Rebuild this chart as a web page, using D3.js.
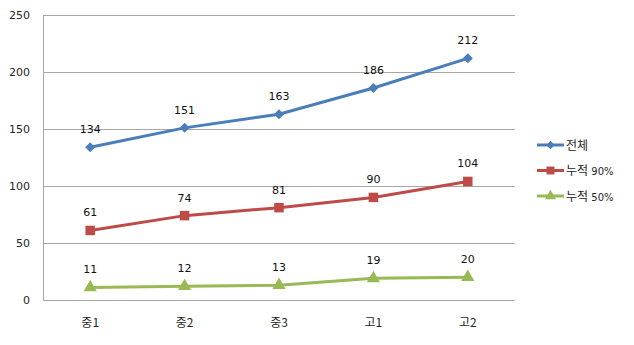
<!DOCTYPE html>
<html><head><meta charset="utf-8">
<script src="https://cdn.jsdelivr.net/npm/d3@7"></script>
<style>body{margin:0;background:#fff}</style>
</head><body><svg id="c" width="634" height="345"></svg>
<script>
const categories = ["중1","중2","중3","고1","고2"];
const seriesNames = ["전체","누적 90%","누적 50%"];
const total = [134,151,163,186,212];
const cum90 = [61,74,81,90,104];
const cum50 = [11,12,13,19,20];
const yTicks = [0,50,100,150,200,250];

const series = [
  {name: seriesNames[0], values: total, color: "#4a7ebb", marker: "diamond"},
  {name: seriesNames[1], values: cum90, color: "#be4b48", marker: "square"},
  {name: seriesNames[2], values: cum50, color: "#98b954", marker: "triangle"}
];

const svg = d3.select("#c");
const pLeft = 43, pRight = 515, pTop = 15, pBottom = 300;
const x = d3.scaleBand().domain(categories).range([pLeft, pRight]);
const y = d3.scaleLinear().domain([0, 250]).range([pBottom, pTop]);
const numFont = "'DejaVu Sans', sans-serif";
const krFont = "'Noto Sans CJK KR', sans-serif";

// gridlines
svg.append("g").selectAll("line").data(yTicks).join("line")
  .attr("x1", pLeft).attr("x2", pRight)
  .attr("y1", d => y(d) + 0.5).attr("y2", d => y(d) + 0.5)
  .attr("stroke", "#a6a6a6").attr("stroke-width", 1);
// y axis line
svg.append("line").attr("x1", pLeft + 0.5).attr("x2", pLeft + 0.5)
  .attr("y1", pTop).attr("y2", pBottom).attr("stroke", "#a6a6a6");

// y tick labels
svg.append("g").selectAll("text").data(yTicks).join("text")
  .attr("x", 30).attr("y", d => y(d) + 4)
  .attr("text-anchor", "end").attr("font-family", numFont).attr("font-size", 11)
  .attr("fill", "#262626").text(d => d);

// x labels
svg.append("g").selectAll("text").data(categories).join("text")
  .attr("x", d => x(d) + x.bandwidth() / 2).attr("y", 327)
  .attr("text-anchor", "middle").attr("font-family", krFont).attr("font-size", 12)
  .attr("fill", "#262626").text(d => d);

const cx = (d, i) => x(categories[i]) + x.bandwidth() / 2;
const sym = {diamond: d3.symbolSquare, square: d3.symbolSquare, triangle: d3.symbolTriangle};
const symSize = {diamond: 50, square: 90, triangle: 75};
const symRot = {diamond: 45, square: 0, triangle: 0};

series.forEach(s => {
  const g = svg.append("g");
  g.append("path").datum(s.values)
    .attr("d", d3.line().x(cx).y(d => y(d)))
    .attr("fill", "none").attr("stroke", s.color).attr("stroke-width", 3);
  g.selectAll("path.m").data(s.values).join("path").attr("class", "m")
    .attr("transform", (d, i) => `translate(${cx(d, i)},${y(d)}) rotate(${symRot[s.marker]})`)
    .attr("d", d3.symbol().type(sym[s.marker]).size(symSize[s.marker]))
    .attr("fill", s.color);
  g.selectAll("text").data(s.values).join("text")
    .attr("x", cx).attr("y", d => y(d) - 14)
    .attr("text-anchor", "middle").attr("font-family", numFont).attr("font-size", 11)
    .attr("fill", "#111").text(d => d);
});

// legend
const lg = svg.append("g");
series.forEach((s, i) => {
  const ly = 145 + i * 25.5;
  lg.append("line").attr("x1", 537).attr("x2", 564).attr("y1", ly).attr("y2", ly)
    .attr("stroke", s.color).attr("stroke-width", 3);
  lg.append("path").attr("transform", `translate(550.5,${ly}) rotate(${symRot[s.marker]})`)
    .attr("d", d3.symbol().type(sym[s.marker]).size(symSize[s.marker] * 0.7)).attr("fill", s.color);
  const t = lg.append("text").attr("x", 566).attr("y", ly + 4.5)
    .attr("font-family", krFont).attr("font-size", 12).attr("fill", "#262626");
  const parts = s.name.split(" ");
  t.append("tspan").text(parts[0]);
  if (parts[1]) t.append("tspan").attr("font-family", numFont).attr("font-size", 10).text(" " + parts[1]);
});
</script></body></html>
